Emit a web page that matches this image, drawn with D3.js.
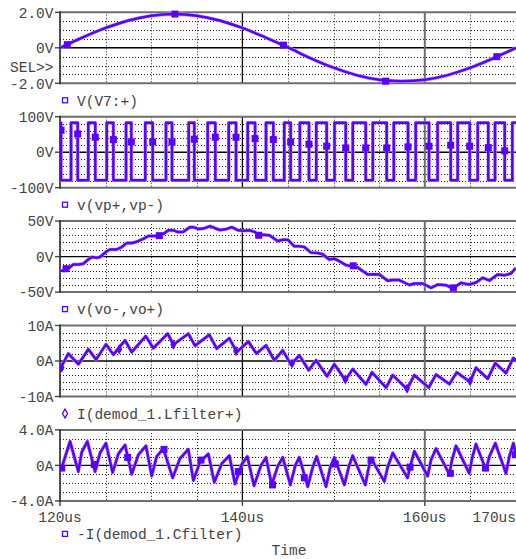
<!doctype html>
<html>

<head>
  <meta charset="utf8"/>
  <style>
    body { margin: 0; background: #fff; }
    svg { display: block; }
    text {
      font-family: 'Liberation Mono', monospace;
      font-size: 14.5px;
      fill: #444;
    }
    .grid {
      stroke: #222;
      stroke-width: 1px;
      stroke-dasharray: 1,2;
    }
    .trace {
      fill: none;
      stroke: #5a00ff;
      stroke-width: 2.5px;
      stroke-linejoin: round;
    }
  </style>
</head>

<body>
  <svg width='516' height='559'></svg>
  <script src="https://d3js.org/d3.v7.min.js"></script>

  <script>

    // ---- data (time in us) ----
    var timeTicks = [120, 140, 160, 170];
    var timeTickLabels = ['120us', '140us', '160us', '170us'];
    var timeGrid = [125, 130, 135, 145, 150, 155, 165];

    var panelNames = ['V(V7:+)', 'v(vp+,vp-)', 'v(vo-,vo+)',
                      'I(demod_1.Lfilter+)', '-I(demod_1.Cfilter)'];
    var panelMax = [2, 100, 50, 10, 4];
    var panelStep = [0.5, 20, 10, 2, 1];
    var panelTickLabels = [['2.0V', '0V', '-2.0V'],
                           ['100V', '0V', '-100V'],
                           ['50V', '0V', '-50V'],
                           ['10A', '0A', '-10A'],
                           ['4.0A', '0A', '-4.0A']];

    // V(V7:+)
    var v7 = [[120, 0], [122.5, 0.59], [125, 1.12], [127.5, 1.54], [130, 1.81],
              [132.5, 1.9], [135, 1.81], [137.5, 1.54], [140, 1.12], [142.5, 0.59],
              [145, 0.02], [147.5, -0.59], [150, -1.12], [152.5, -1.54], [155, -1.8],
              [157.5, -1.88], [160, -1.8], [162.5, -1.54], [165, -1.12],
              [167.5, -0.59], [170, 0]];
    var v7Markers = [[120.8, 0.18], [132.6, 1.9], [144.5, 0.15], [155.7, -1.88],
                     [167.9, -0.5]];

    // v(vp+,vp-) : PWM edges
    var pwmHigh = 83, pwmLow = -79;
    var pwmFalls = [120.11, 121.94, 123.87, 125.85, 127.82, 130.16, 132.28, 134.73,
                    137.03, 139.30, 141.39, 143.39, 145.29, 147.30, 149.24, 151.33,
                    153.52, 155.82, 158.16, 160.46, 162.84, 164.92, 166.96, 168.76];
    var pwmRises = [121.21, 123.10, 125.12, 127.24, 129.35, 131.62, 134.11, 136.19,
                    138.50, 140.58, 142.59, 144.59, 146.3, 148.1, 150.1, 152.1,
                    154.3, 156.6, 159.0, 161.4, 163.6, 165.8, 167.7, 169.6];
    var pwmMarkerValues = [61.8, 51.4, 42.1, 35.5, 28.9, 28.9, 28.9, 36.5, 42.1, 42.1,
                           38.2, 35.5, 28.9, 22.5, 16.9, 12.1, 12.1, 12.1, 14.9, 16.9,
                           19.7, 16.9, 13.0, 3.7];

    // v(vo-,vo+)
    var vo = [[120, -20], [120.55, -20], [120.9, -17], [121.46, -11], [122, -11],
              [122.56, -10], [123.1, -4], [123.47, -0.5], [124, -1.5], [124.39, -0.5],
              [125.12, 7.5], [125.48, 10], [126.2, 10], [126.76, 13.5], [127.3, 19],
              [127.86, 19], [128.4, 21], [129.14, 25], [129.68, 29], [130.23, 29],
              [130.89, 29.5], [131.33, 32], [131.88, 37], [132.42, 37], [132.97, 34.5],
              [133.52, 35], [134.25, 41.5], [134.62, 41.5], [135.16, 39], [135.71, 39.5],
              [136.45, 43], [137, 40], [137.54, 37.5], [138.28, 39], [138.83, 41.5],
              [139.55, 37], [140.1, 36.5], [140.83, 37], [141.38, 34.5], [141.78, 30],
              [142.23, 30.8], [142.95, 30], [143.87, 22], [144.42, 23.8], [144.97, 23.8],
              [145.69, 14.5], [146.24, 14.5], [146.79, 13.5], [147.52, 5.6], [148.26, 5],
              [148.8, 3.3], [149.53, -4.2], [150.08, -2.8], [150.63, -6.5], [151.36, -12],
              [152.09, -13.5], [152.64, -15.4], [153.74, -25.2], [154.46, -24.8],
              [155.01, -25.2], [155.93, -34], [156.48, -33], [157.2, -33], [158.3, -40],
              [158.85, -37.9], [159.77, -37.9], [160.68, -43.9], [161.41, -39.3],
              [162.32, -40.2], [163.06, -44.9], [163.97, -37], [164.88, -39.3],
              [165.61, -36.4], [166.35, -29.9], [167.07, -33.6], [167.99, -25.2],
              [168.72, -26.2], [169.45, -23.8], [170, -15.9]];
    var voMarkers = [[120.66, -17], [130.89, 29.5], [141.78, 30], [152.16, -13],
                     [163.13, -44]];

    // I(demod_1.Lfilter+)
    var iL = [[120, -2.4], [120.91, 2.1], [122.01, -0.9], [123.11, 3.3], [123.95, 0.4],
              [125.04, 4.7], [125.85, 1.8], [127.13, 5.8], [127.86, 2.5], [129.4, 7.0],
              [130.23, 3.6], [131.81, 7.7], [132.42, 4.6], [134.07, 7.7], [134.8, 4.3],
              [136.37, 7.4], [137.18, 3.5], [138.57, 6.4], [139.37, 2.5], [140.65, 5.5],
              [141.53, 2.1], [142.59, 4.4], [143.5, 0.2], [144.42, 3.0], [145.33, -1.0],
              [146.24, 1.6], [147.27, -2.6], [148.07, 0.2], [149.28, -4.3], [150.08, -0.9],
              [151.29, -5.4], [152.09, -2.3], [153.55, -6.6], [154.21, -3.2],
              [155.75, -7.5], [156.48, -4.0], [158.05, -7.9], [158.85, -4.0],
              [160.43, -7.5], [161.23, -3.8], [162.69, -6.5], [163.5, -3.2],
              [164.96, -5.9], [165.61, -1.9], [166.9, -5.0], [167.73, -0.6],
              [168.9, -3.4], [169.7, 0.8], [170, 0.3]];
    var iLMarkers = [[120.18, -1.9], [126.5, 3.3], [132.42, 4.6], [139.3, 2.8],
                     [145.44, -0.7], [151.29, -5.2], [158.05, -7.8], [164.96, -5.7]];

    // -I(demod_1.Cfilter)
    var iC = [[120.11, -0.5], [121.1, 2.7], [122.01, -0.7], [122.38, 1.5], [123, 2.7],
              [123.84, -0.7], [124.39, 1.4], [125.04, 2.5], [125.77, -0.8], [126.4, 1.3],
              [127.13, 2.3], [127.86, -1.0], [128.59, 1.2], [129.43, 2.2], [130.05, -1.2],
              [130.6, 1.0], [131.33, 1.9], [132.35, -1.4], [133.16, 0.8], [134.07, 1.8],
              [134.62, -1.7], [135.35, 0.4], [136.26, 1.3], [136.92, -1.9], [137.73, 0.2],
              [138.57, 1.1], [139.19, -2.1], [139.92, 0.1], [140.54, 1.0], [141.27, -2.3],
              [142.04, 0.0], [142.59, 0.9], [143.21, -2.2], [143.87, -0.1], [144.42, 0.9],
              [145.26, -2.2], [145.8, 0.0], [146.24, 0.9], [147.16, -2.4], [147.71, -0.2],
              [148.14, 1.0], [149.17, -2.4], [149.61, -0.3], [150.08, 0.9], [151.18, -2.2],
              [151.65, -0.2], [152.09, 1.1], [153.48, -2.2], [153.77, -0.6], [154.1, 0.8],
              [155.56, -1.8], [155.93, -0.2], [156.48, 1.4], [158.11, -1.4], [158.38, -0.2],
              [158.85, 1.6], [160.31, -1.2], [160.68, 0.6], [161.23, 1.9], [162.69, -1.0],
              [162.98, 0.6], [163.42, 2.2], [164.88, -0.9], [165.18, 0.8], [165.61, 2.4],
              [166.71, -0.5], [167.08, 1.0], [167.73, 2.5], [168.9, -0.9], [169.27, 1.0],
              [169.71, 2.5], [170, 1.2]];
    var iCMarkers = [[120.18, -0.3], [123.76, 0.1], [127.42, 0.9], [131.4, 1.8],
                     [135.46, 0.6], [139.55, -0.7], [143.3, -2.2], [146.79, -1.4],
                     [150.19, 0.15], [154.1, 0.6], [158.38, -0.2], [162.8, -0.9],
                     [166.65, -0.3], [169.94, 1.2]];

    // build the step trace for the PWM from its edges
    var pwm = [[120, pwmHigh]];
    pwmFalls.forEach(function(t, i) {
      pwm.push([t, pwmLow]);
      if (i < pwmRises.length) { pwm.push([pwmRises[i], pwmHigh]); }
    });
    pwm.push([170, pwmHigh]);
    var pwmMarkers = pwmFalls.map(function(t, i) { return [t, pwmMarkerValues[i]]; });

    var series = [v7, pwm, vo, iL, iC];
    var markers = [v7Markers, pwmMarkers, voMarkers, iLMarkers, iCMarkers];

    // ---- layout ----
    var color = '#5a00ff';
    var svg = d3.select('svg'),
        left = 60, right = 516,
        firstTop = 12.3, panelHeight = 71, panelPitch = 104.4;

    var x = d3.scaleLinear().domain([120, 170]).range([left, right]);

    series.forEach(function(data, i) {
      var top = firstTop + i * panelPitch,
          bottom = top + panelHeight,
          max = panelMax[i];
      var y = d3.scaleLinear().domain([-max, max]).range([bottom, top]);
      var g = svg.append('g').attr('class', 'panel');

      // dotted grid
      var hs = d3.range(-max + panelStep[i], max - 1e-9, panelStep[i])
                 .filter(function(v) { return Math.abs(v) > 1e-9; });
      g.selectAll('.hgrid').data(hs).enter().append('line')
        .attr('class', 'grid')
        .attr('x1', left).attr('x2', right)
        .attr('y1', function(d) { return Math.round(y(d)) + 0.5; })
        .attr('y2', function(d) { return Math.round(y(d)) + 0.5; });
      g.selectAll('.vgrid').data(timeGrid).enter().append('line')
        .attr('class', 'grid')
        .attr('y1', top).attr('y2', bottom)
        .attr('x1', function(d) { return Math.round(x(d)) + 0.5; })
        .attr('x2', function(d) { return Math.round(x(d)) + 0.5; });

      // zero line and major time lines
      g.append('line')
        .attr('x1', left).attr('x2', right)
        .attr('y1', y(0)).attr('y2', y(0))
        .attr('stroke', '#000').attr('stroke-width', 1.4);
      g.append('line')
        .attr('x1', x(140)).attr('x2', x(140))
        .attr('y1', top).attr('y2', bottom)
        .attr('stroke', '#000').attr('stroke-width', 1.3);
      g.append('line')
        .attr('x1', x(160)).attr('x2', x(160))
        .attr('y1', top).attr('y2', bottom)
        .attr('stroke', '#6e6e6e').attr('stroke-width', 2);

      // frame
      [top, bottom].forEach(function(yy) {
        g.append('line')
          .attr('x1', left).attr('x2', right)
          .attr('y1', yy).attr('y2', yy)
          .attr('stroke', '#6e6e6e').attr('stroke-width', 2);
      });
      g.append('line')
        .attr('x1', left).attr('x2', left)
        .attr('y1', top - 1).attr('y2', bottom + 1)
        .attr('stroke', '#222').attr('stroke-width', 1.6);

      // y ticks + labels
      [max, 0, -max].forEach(function(v, k) {
        g.append('line')
          .attr('x1', left - 5).attr('x2', left)
          .attr('y1', y(v)).attr('y2', y(v))
          .attr('stroke', '#444').attr('stroke-width', 1.4);
        g.append('text')
          .attr('x', 53.5).attr('y', y(v))
          .attr('dy', '0.36em')
          .attr('text-anchor', 'end')
          .text(panelTickLabels[i][k]);
      });

      // trace
      g.append('clipPath').attr('id', 'clip' + i)
        .append('rect')
          .attr('x', left).attr('y', top - 4)
          .attr('width', right - left).attr('height', panelHeight + 8);

      var line = d3.line()
        .x(function(d) { return x(d[0]); })
        .y(function(d) { return y(d[1]); });
      if (i === 0) { line.curve(d3.curveMonotoneX); }
      if (i === 1) { line.curve(d3.curveStepAfter); }

      var tg = g.append('g').attr('clip-path', 'url(#clip' + i + ')');
      tg.append('path')
        .attr('d', line(data))
        .attr('fill', 'none')
        .attr('stroke', '#b9a0ff')
        .attr('stroke-width', 3.6)
        .attr('stroke-linejoin', 'round');
      tg.append('path')
        .attr('class', 'trace')
        .attr('d', line(data));

      if (i === 3) {
        tg.selectAll('.mk').data(markers[i]).enter().append('path')
          .attr('d', d3.symbol().type(d3.symbolDiamond).size(30))
          .attr('transform', function(d) {
            return 'translate(' + x(d[0]) + ',' + y(d[1]) + ')';
          })
          .attr('fill', color);
      } else {
        tg.selectAll('.mk').data(markers[i]).enter().append('rect')
          .attr('x', function(d) { return x(d[0]) - 3.5; })
          .attr('y', function(d) { return y(d[1]) - 3.5; })
          .attr('width', 7).attr('height', 7)
          .attr('fill', color);
      }

      // legend
      var ly = (i === 4) ? bottom + 33 : bottom + 17;
      if (i === 3) {
        g.append('path')
          .attr('d', d3.symbol().type(d3.symbolDiamond).size(22))
          .attr('transform', 'translate(65,' + ly + ')')
          .attr('fill', 'none').attr('stroke', color).attr('stroke-width', 1.3);
      } else {
        g.append('rect')
          .attr('x', 62.5).attr('y', ly - 2.5)
          .attr('width', 5).attr('height', 5)
          .attr('fill', 'none').attr('stroke', color).attr('stroke-width', 1.3);
      }
      g.append('text')
        .attr('x', 77).attr('y', ly)
        .attr('dy', '0.36em')
        .text(panelNames[i]);

      // time axis under the last panel
      if (i === 4) {
        timeTicks.forEach(function(t, k) {
          if (t < 170) {
            g.append('line')
              .attr('x1', x(t)).attr('x2', x(t))
              .attr('y1', bottom).attr('y2', bottom + 5)
              .attr('stroke', '#444').attr('stroke-width', 1.4);
          }
          g.append('text')
            .attr('x', t < 170 ? x(t) : right)
            .attr('y', bottom + 16)
            .attr('dy', '0.36em')
            .attr('text-anchor', t < 170 ? 'middle' : 'end')
            .text(timeTickLabels[k]);
        });
      }
    });

    svg.append('text')
      .attr('x', 53.5).attr('y', 66.7)
      .attr('dy', '0.36em')
      .attr('text-anchor', 'end')
      .text('SEL>>');

    svg.append('text')
      .attr('x', 289).attr('y', 550)
      .attr('dy', '0.36em')
      .attr('text-anchor', 'middle')
      .text('Time');

  </script>
</body>

</html>
